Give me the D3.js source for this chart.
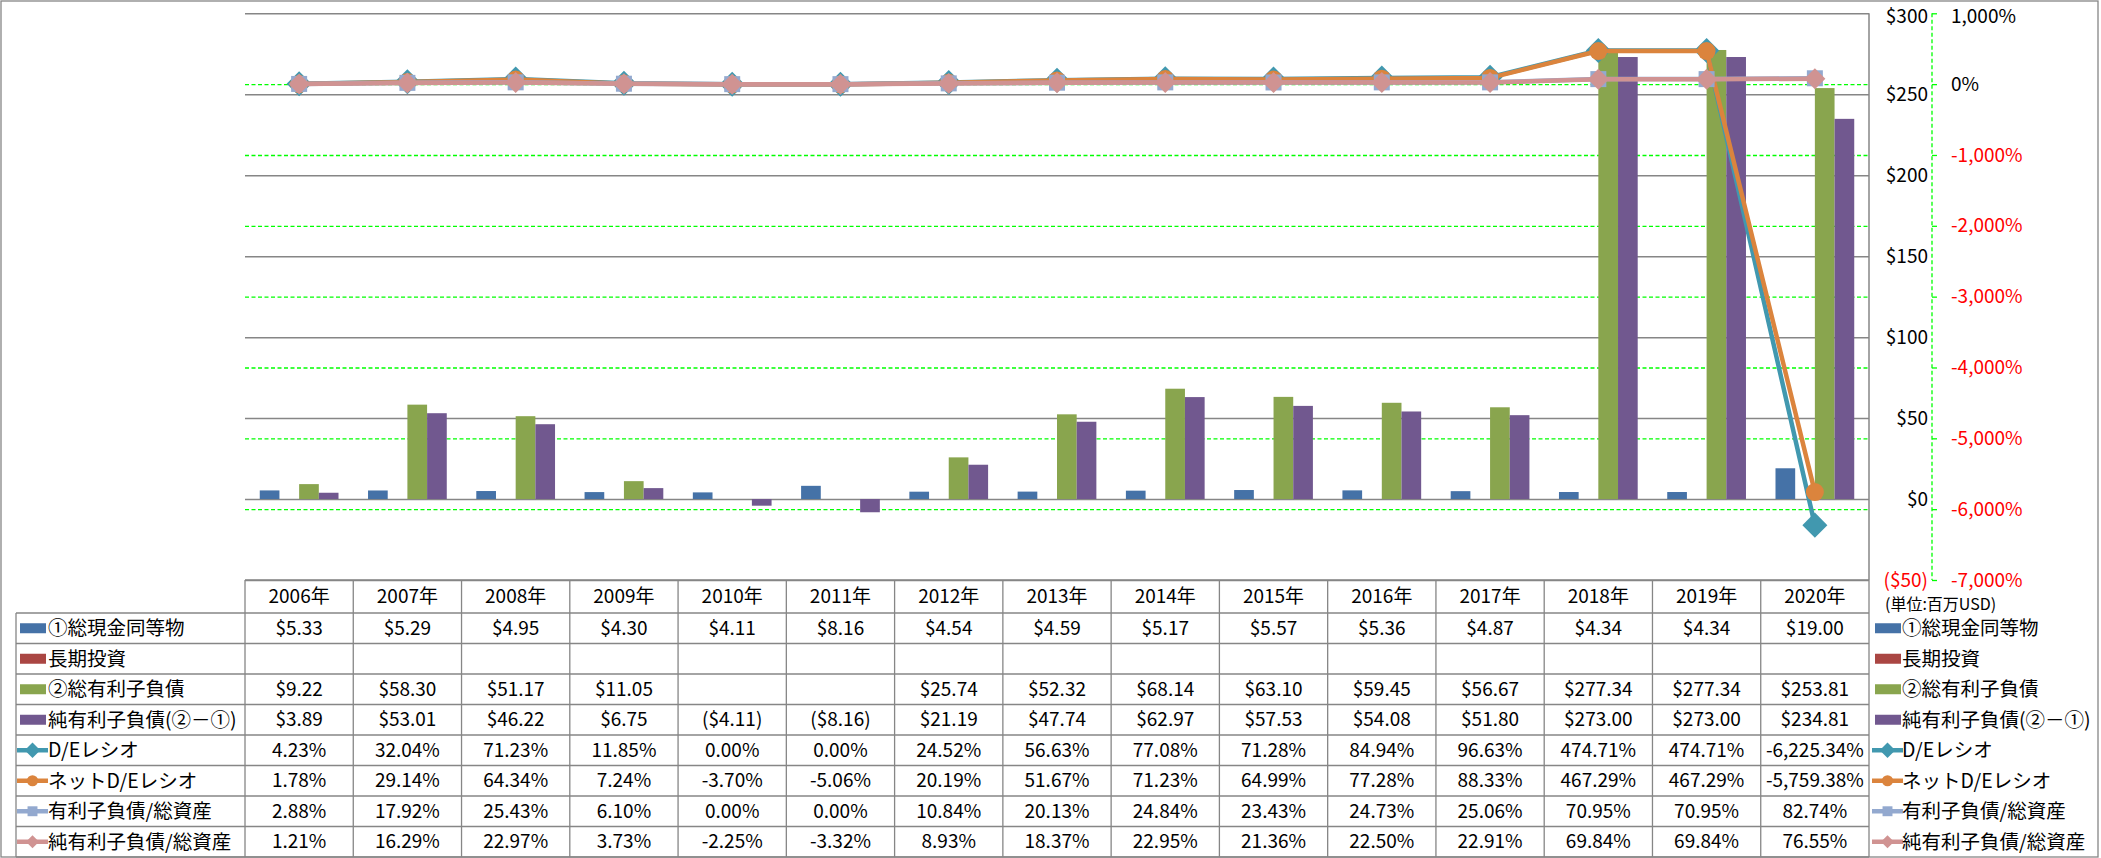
<!DOCTYPE html>
<html><head><meta charset="utf-8">
<script src="https://cdn.jsdelivr.net/npm/d3@7"></script>
<style>
html,body{margin:0;padding:0;background:#fff;}
text{font-family:'Noto Sans CJK JP',sans-serif;}
</style></head>
<body><svg id="c" width="2101" height="858"></svg>
<script>
// ---- data ----
const years = ["2006年","2007年","2008年","2009年","2010年","2011年","2012年","2013年","2014年","2015年","2016年","2017年","2018年","2019年","2020年"];
const cash = [5.33,5.29,4.95,4.30,4.11,8.16,4.54,4.59,5.17,5.57,5.36,4.87,4.34,4.34,19.00];
const longInv = [null,null,null,null,null,null,null,null,null,null,null,null,null,null,null];
const debt = [9.22,58.30,51.17,11.05,null,null,25.74,52.32,68.14,63.10,59.45,56.67,277.34,277.34,253.81];
const netDebt = [3.89,53.01,46.22,6.75,-4.11,-8.16,21.19,47.74,62.97,57.53,54.08,51.80,273.00,273.00,234.81];
const deRatio = [4.23,32.04,71.23,11.85,0.00,0.00,24.52,56.63,77.08,71.28,84.94,96.63,474.71,474.71,-6225.34];
const netDeRatio = [1.78,29.14,64.34,7.24,-3.70,-5.06,20.19,51.67,71.23,64.99,77.28,88.33,467.29,467.29,-5759.38];
const debtToAssets = [2.88,17.92,25.43,6.10,0.00,0.00,10.84,20.13,24.84,23.43,24.73,25.06,70.95,70.95,82.74];
const netDebtToAssets = [1.21,16.29,22.97,3.73,-2.25,-3.32,8.93,18.37,22.95,21.36,22.50,22.91,69.84,69.84,76.55];
const leftTicks = [-50,0,50,100,150,200,250,300];
const rightTicks = [-7000,-6000,-5000,-4000,-3000,-2000,-1000,0,1000];
const unitLabel = "(単位:百万USD)";

const barSeries = [
  {name:"①総現金同等物", data:cash, color:"#4572A7"},
  {name:"長期投資", data:longInv, color:"#AA4643"},
  {name:"②総有利子負債", data:debt, color:"#89A54E"},
  {name:"純有利子負債(②－①)", data:netDebt, color:"#71588F"}
];
const lineSeries = [
  {name:"D/Eレシオ", data:deRatio, color:"#4198AF", marker:"diamond", size:25},
  {name:"ネットD/Eレシオ", data:netDeRatio, color:"#DB843D", marker:"circle", size:18},
  {name:"有利子負債/総資産", data:debtToAssets, color:"#93A9CF", marker:"square", size:16},
  {name:"純有利子負債/総資産", data:netDebtToAssets, color:"#D09392", marker:"diamond", size:21}
];

const loc = d3.formatLocale({decimal:".", thousands:",", grouping:[3], currency:["$",""], minus:"-"});
const fPct = loc.format(",.2f");
const fNum = loc.format(".2f");
const fInt = loc.format(",");

// ---- layout ----
const svg = d3.select("#c");
const L = 245, R = 1869, T = 13.3, B = 580;
const grey = "#868686", green = "#00FF00";
const x = d3.scaleBand().domain(years).range([L, R]);
const xs = d3.scaleBand().domain(barSeries.map(d=>d.name)).range([0, x.bandwidth()]).paddingOuter(0.75);
const y = d3.scaleLinear().domain([-50,300]).range([B, T]);
const y2 = d3.scaleLinear().domain([-7000,1000]).range([B, T]);

svg.append("rect").attr("x",0).attr("y",0).attr("width",2101).attr("height",858).attr("fill","#fff");

// primary gridlines (grey)
const gGrid = svg.append("g").attr("transform",`translate(${L},0)`)
  .call(d3.axisLeft(y).tickValues(leftTicks).tickSize(-(R-L)).tickFormat(""));
gGrid.select(".domain").remove();
gGrid.selectAll("line").attr("stroke",grey).attr("stroke-width",1.5);

// secondary gridlines (green dashed)
const gGrid2 = svg.append("g").attr("transform",`translate(${L},0)`)
  .call(d3.axisLeft(y2).tickValues(rightTicks.filter(v=>v!==1000 && v!==-7000)).tickSize(-(R-L)).tickFormat(""));
gGrid2.select(".domain").remove();
gGrid2.selectAll("line").attr("stroke",green).attr("stroke-width",1.3).attr("stroke-dasharray","4,2.5");

// plot right border
svg.append("line").attr("x1",R).attr("x2",R).attr("y1",T).attr("y2",B).attr("stroke",grey).attr("stroke-width",1.5);

// bars
barSeries.forEach(s=>{
  svg.append("g").selectAll("rect").data(s.data.map((v,i)=>({v,i})).filter(d=>d.v!==null))
    .join("rect")
    .attr("x", d=>x(years[d.i]) + xs(s.name))
    .attr("width", xs.bandwidth())
    .attr("y", d=>y(Math.max(0,d.v)))
    .attr("height", d=>Math.abs(y(d.v)-y(0)))
    .attr("fill", s.color);
});

// markers
function markerPath(type, size){
  if(type==="circle") return d3.symbol(d3.symbolCircle, Math.PI*(size/2)*(size/2))();
  if(type==="square") return d3.symbol(d3.symbolSquare, size*size)();
  const a = size/Math.SQRT2;
  return d3.symbol(d3.symbolSquare, a*a)();
}
const cx = i => x(years[i]) + x.bandwidth()/2;
lineSeries.forEach(s=>{
  const line = d3.line().x((d,i)=>cx(i)).y(d=>y2(d));
  svg.append("path").datum(s.data).attr("d",line).attr("fill","none")
    .attr("stroke",s.color).attr("stroke-width",4.5).attr("stroke-linejoin","round");
  svg.append("g").selectAll("path").data(s.data).join("path")
    .attr("d", markerPath(s.marker, s.size))
    .attr("transform",(d,i)=>`translate(${cx(i)},${y2(d)})${s.marker==="diamond"?" rotate(45)":""}`)
    .attr("fill", s.color);
});

// right axes
const AX = 1932;
svg.append("line").attr("x1",AX).attr("x2",AX).attr("y1",T).attr("y2",B)
  .attr("stroke",green).attr("stroke-width",1.3).attr("stroke-dasharray","4,2.5");
const gA2 = svg.append("g").attr("transform",`translate(${AX},0)`)
  .call(d3.axisRight(y2).tickValues(rightTicks).tickSize(5).tickPadding(14).tickFormat(v=>fInt(v)+"%"));
gA2.select(".domain").remove();
gA2.selectAll("line").attr("stroke",green).attr("stroke-width",1.3);
gA2.selectAll("text").attr("font-size",19).attr("fill",v=>v<0?"#FF0000":"#000")
  .attr("dy",v=>v===1000?"0.48em":"0.32em");

const gA1 = svg.append("g").attr("transform",`translate(${AX-4},0)`)
  .call(d3.axisLeft(y).tickValues(leftTicks).tickSize(0).tickPadding(0)
    .tickFormat(v=> v<0 ? "($"+Math.abs(v)+")" : "$"+v));
gA1.select(".domain").remove();
gA1.selectAll("text").attr("font-size",19).attr("fill",v=>v<0?"#FF0000":"#000")
  .attr("dy",v=>v===300?"0.48em":"0.32em");

svg.append("text").attr("x",1885).attr("y",604).attr("dy","0.35em")
  .attr("font-size",16).attr("fill","#000").text(unitLabel);

// ---- data table ----
const rowsDef = [
  ...barSeries.map(s=>({s, kind:"bar", fmt:v=> v===null?"": (v<0?"($"+fNum(-v)+")":"$"+fNum(v))})),
  ...lineSeries.map(s=>({s, kind:"line", fmt:v=> fPct(v)+"%"}))
];
const HT = 580, HB = 613, RH = 30.5, TL = 16;
const rowTop = i => HB + i*RH;
const TB = rowTop(rowsDef.length);
const tg = svg.append("g");
tg.append("line").attr("x1",L).attr("x2",R).attr("y1",HT).attr("y2",HT);
for(let i=0;i<=rowsDef.length;i++){
  tg.append("line").attr("x1",TL).attr("x2",R).attr("y1",rowTop(i)).attr("y2",rowTop(i));
}
tg.append("line").attr("x1",TL).attr("x2",TL).attr("y1",HB).attr("y2",TB);
years.forEach((yr,i)=>{
  tg.append("line").attr("x1",x(yr)).attr("x2",x(yr)).attr("y1",HT).attr("y2",TB);
});
tg.append("line").attr("x1",R).attr("x2",R).attr("y1",HT).attr("y2",TB);
tg.selectAll("line").attr("stroke",grey).attr("stroke-width",1.3);

// header
svg.append("g").selectAll("text").data(years).join("text")
  .attr("x",d=>x(d)+x.bandwidth()/2).attr("y",(HT+HB)/2).attr("dy","0.35em")
  .attr("text-anchor","middle").attr("font-size",19).attr("fill","#000").text(d=>d);

function drawKey(g, r, x0, yc){
  if(r.kind==="bar"){
    g.append("rect").attr("x",x0+3).attr("y",yc-5).attr("width",26).attr("height",10).attr("fill",r.s.color);
  } else {
    g.append("line").attr("x1",x0).attr("x2",x0+31).attr("y1",yc).attr("y2",yc)
      .attr("stroke",r.s.color).attr("stroke-width",4.5);
    g.append("path").attr("d",markerPath(r.s.marker, r.s.size*0.62))
      .attr("transform",`translate(${x0+15.5},${yc})${r.s.marker==="diamond"?" rotate(45)":""}`)
      .attr("fill",r.s.color);
  }
}

rowsDef.forEach((r,ri)=>{
  const yc = rowTop(ri) + RH/2;
  const g = svg.append("g");
  drawKey(g, r, 17, yc);
  g.append("text").attr("x",48).attr("y",yc).attr("dy","0.35em").attr("font-size",19.5).attr("fill","#000").text(r.s.name);
  g.selectAll("text.v").data(r.s.data).join("text").attr("class","v")
    .attr("x",(d,i)=>x(years[i])+x.bandwidth()/2).attr("y",yc).attr("dy","0.35em")
    .attr("text-anchor","middle").attr("font-size",19).attr("fill","#000").text(d=>r.fmt(d));
  drawKey(g, r, 1872, yc);
  g.append("text").attr("x",1902).attr("y",yc).attr("dy","0.35em").attr("font-size",19.5).attr("fill","#000").text(r.s.name);
});

// outer border
svg.append("rect").attr("x",1).attr("y",1).attr("width",2097).attr("height",856)
  .attr("fill","none").attr("stroke",grey).attr("stroke-width",1.3);
</script></body></html>
